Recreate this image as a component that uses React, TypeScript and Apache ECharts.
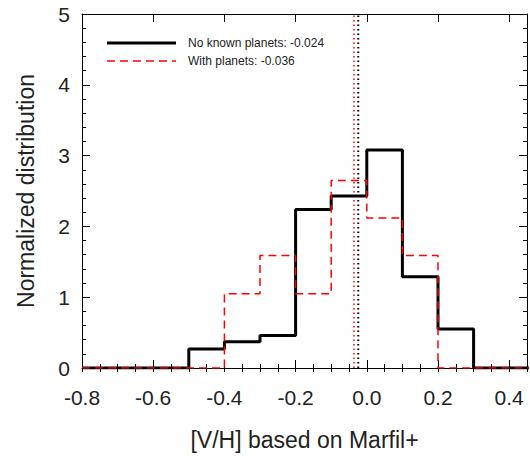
import React, { useEffect, useRef } from "react";
import * as echarts from "echarts";

// Bin left edges ([V/H]) and normalized histogram heights
const binStarts = [-0.8, -0.7, -0.6, -0.5, -0.4, -0.3, -0.2, -0.1, 0.0, 0.1, 0.2, 0.3, 0.4];
const noPlanets = [0, 0, 0, 0.27, 0.37, 0.46, 2.24, 2.43, 3.08, 1.29, 0.55, 0, 0];
const withPlanets = [0, 0, 0, 0, 1.05, 1.59, 1.05, 2.65, 2.12, 1.59, 0, 0, 0];
const binWidth = 0.1;
const meanNoPlanets = -0.024;
const meanWithPlanets = -0.036;
const xTickLabels = ["-0.8", "-0.6", "-0.4", "-0.2", "0.0", "0.2", "0.4"];
const yTickLabels = ["0", "1", "2", "3", "4", "5"];

const FONT = "'Liberation Sans', Arial, Helvetica, sans-serif";
const TXT = "#222";

function stepData(vals: number[]) {
  const d = binStarts.map((x, i) => [x, vals[i]]);
  d.push([binStarts[binStarts.length - 1] + binWidth, vals[vals.length - 1]]);
  return d;
}

export default function App() {
  const ref = useRef<HTMLDivElement>(null);
  useEffect(() => {
    document.body.style.margin = "0";
    const chart = echarts.init(ref.current!, null, { renderer: "svg" });
    const xMin = -0.8, xMax = 0.45, yMin = 0, yMax = 5;
    const common = { min: xMin, max: xMax, type: "value" as const, splitLine: { show: false } };
    const xLabelFmt = (v: number) => {
      const s = v.toFixed(1);
      return xTickLabels.includes(s) && Math.abs(v * 5 - Math.round(v * 5)) < 1e-6 ? s : "";
    };
    const option: any = {
      animation: false,
      backgroundColor: "#fff",
      grid: { left: 82, right: 3, top: 14, bottom: 85, containLabel: false },
      xAxis: [
        {
          ...common, position: "bottom", interval: 0.2,
          name: "[V/H] based on Marfil+", nameLocation: "middle", nameGap: 60,
          nameTextStyle: { fontFamily: FONT, fontSize: 23, color: TXT },
          axisLine: { show: true, onZero: false, lineStyle: { color: "#000", width: 1 } },
          axisTick: { show: true, inside: true, length: 8, lineStyle: { color: "#000" } },
          axisLabel: { formatter: xLabelFmt, fontFamily: FONT, fontSize: 21, color: TXT, margin: 19 },
        },
        {
          ...common, position: "bottom", interval: 0.05,
          axisLine: { show: false },
          axisTick: { show: true, inside: true, length: 4, lineStyle: { color: "#000" } },
          axisLabel: { show: false },
        },
        {
          ...common, position: "top", interval: 0.2,
          axisLine: { show: true, onZero: false, lineStyle: { color: "#000", width: 1 } },
          axisTick: { show: true, inside: true, length: 8, lineStyle: { color: "#000" } },
          axisLabel: { show: false },
        },
        {
          ...common, position: "top", interval: 0.05,
          axisLine: { show: false },
          axisTick: { show: true, inside: true, length: 4, lineStyle: { color: "#000" } },
          axisLabel: { show: false },
        },
      ],
      yAxis: [
        {
          type: "value", min: yMin, max: yMax, interval: 1, position: "left",
          name: "Normalized distribution", nameLocation: "middle", nameGap: 45,
          nameTextStyle: { fontFamily: FONT, fontSize: 23, color: TXT },
          splitLine: { show: false },
          axisLine: { show: true, onZero: false, lineStyle: { color: "#000", width: 1 } },
          axisTick: { show: true, inside: true, length: 8, lineStyle: { color: "#000" } },
          minorTick: { show: true, splitNumber: 5, length: 4, lineStyle: { color: "#000" } },
          axisLabel: {
            fontFamily: FONT, fontSize: 21, color: TXT, margin: 12,
            formatter: (v: number) => yTickLabels[Math.round(v)] ?? "",
          },
        },
        {
          type: "value", min: yMin, max: yMax, interval: 1, position: "right",
          splitLine: { show: false },
          axisLine: { show: true, onZero: false, lineStyle: { color: "#000", width: 1 } },
          axisTick: { show: true, inside: true, length: 8, lineStyle: { color: "#000" } },
          minorTick: { show: true, splitNumber: 5, length: 4, lineStyle: { color: "#000" } },
          axisLabel: { show: false },
        },
      ],
      series: [
        {
          name: "No known planets", type: "line", step: "end", symbol: "none",
          data: stepData(noPlanets), clip: true, z: 3,
          lineStyle: { color: "#000", width: 3 },
        },
        {
          name: "With planets", type: "line", step: "end", symbol: "none",
          data: stepData(withPlanets), clip: true, z: 4,
          lineStyle: { color: "#ff0000", width: 1.5, type: [8, 5] },
        },
        {
          type: "line", symbol: "none", z: 2,
          data: [[meanWithPlanets, yMin], [meanWithPlanets, yMax]],
          lineStyle: { color: "#ff0000", width: 1.5, type: [1.5, 3] },
        },
        {
          type: "line", symbol: "none", z: 2,
          data: [[meanNoPlanets, yMin], [meanNoPlanets, yMax]],
          lineStyle: { color: "#000", width: 2, type: [1.5, 3] },
        },
      ],
      graphic: [
        { type: "line", shape: { x1: 107, y1: 43, x2: 176, y2: 43 }, style: { stroke: "#000", lineWidth: 3 } },
        {
          type: "text", x: 188, y: 43,
          style: { text: `No known planets: ${meanNoPlanets.toFixed(3)}`, fontFamily: FONT, fontSize: 12, fill: TXT, verticalAlign: "middle" },
        },
        { type: "line", shape: { x1: 107, y1: 61, x2: 176, y2: 61 }, style: { stroke: "#ff0000", lineWidth: 1.5, lineDash: [8, 5] } },
        {
          type: "text", x: 188, y: 61,
          style: { text: `With planets: ${meanWithPlanets.toFixed(3)}`, fontFamily: FONT, fontSize: 12, fill: TXT, verticalAlign: "middle" },
        },
      ],
    };
    chart.setOption(option);
    return () => chart.dispose();
  }, []);
  return <div ref={ref} style={{ position: "fixed", left: 0, top: 0, width: 530, height: 456 }} />;
}
